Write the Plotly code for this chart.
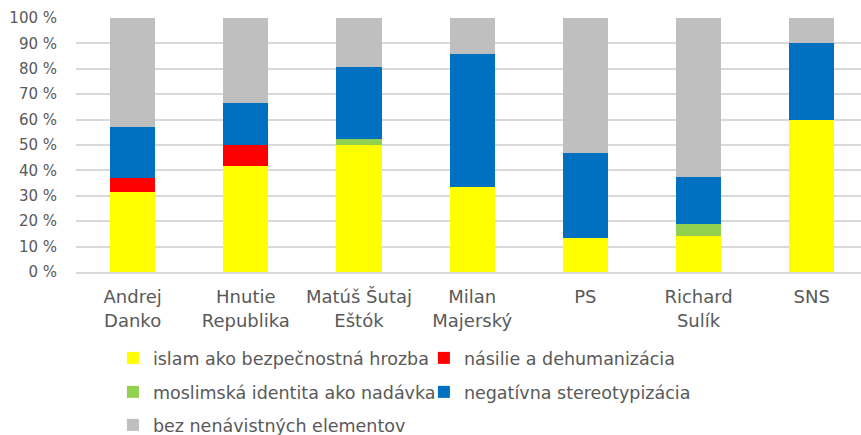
import plotly.graph_objects as go

categories = ["Andrej<br>Danko", "Hnutie<br>Republika", "Matúš Šutaj<br>Eštók", "Milan<br>Majerský",
              "PS", "Richard<br>Sulík", "SNS"]
islam_hrozba = [31.4, 41.7, 50.0, 33.3, 13.3, 14.1, 60.0]
nasilie = [5.7, 8.3, 0, 0, 0, 0, 0]
moslimska_identita = [0, 0, 2.3, 0, 0, 4.7, 0]
stereotypizacia = [20.0, 16.7, 28.4, 52.4, 33.4, 18.8, 30.0]
bez_elementov = [42.9, 33.3, 19.3, 14.3, 53.3, 62.4, 10.0]

series = [
    ("islam ako bezpečnostná hrozba", islam_hrozba, "#FFFF00", "legend"),
    ("násilie a dehumanizácia", nasilie, "#FF0000", "legend"),
    ("moslimská identita ako nadávka", moslimska_identita, "#92D050", "legend2"),
    ("negatívna stereotypizácia", stereotypizacia, "#0070C0", "legend2"),
    ("bez nenávistných elementov", bez_elementov, "#BFBFBF", "legend3"),
]
y_tickvals = [0, 10, 20, 30, 40, 50, 60, 70, 80, 90, 100]
y_ticktext = [f"{v} %" for v in y_tickvals]

FONT = "DejaVu Sans"
TXT = "#595959"

fig = go.Figure()
for name, vals, color, lg in series:
    fig.add_trace(go.Bar(x=categories, y=vals, name=name, marker=dict(color=color, line=dict(width=0)),
                         legend=lg))

legend_common = dict(orientation="h", font=dict(family=FONT, size=17.5, color=TXT),
                     bgcolor="rgba(0,0,0,0)", entrywidth=266, entrywidthmode="pixels",
                     itemwidth=30, xanchor="left", yanchor="middle", tracegroupgap=0, traceorder="normal")

fig.update_layout(
    width=861, height=435,
    margin=dict(l=76, r=0, t=18, b=163, autoexpand=False),
    barmode="stack", bargap=0.6,
    plot_bgcolor="white", paper_bgcolor="white",
    font=dict(family=FONT, size=15, color=TXT),
    xaxis=dict(range=[-0.5, 6.435], showgrid=False, showline=True, linecolor="#D9D9D9", linewidth=1.5,
               ticks="", tickfont=dict(family=FONT, size=18, color=TXT), ticklabelstandoff=8),
    yaxis=dict(range=[0, 100], tickvals=y_tickvals, ticktext=y_ticktext, showgrid=True,
               gridcolor="#D9D9D9", gridwidth=1.5, zeroline=False, showline=False, ticks="",
               tickfont=dict(family=FONT, size=15, color=TXT), ticklabelstandoff=18),
    legend=dict(x=0.047, y=-0.3386, **legend_common),
    legend2=dict(x=0.047, y=-0.4724, **legend_common),
    legend3=dict(x=0.047, y=-0.6024, **legend_common),
)

fig.write_html("out.html", config={"displayModeBar": False},
               post_script="document.body.style.margin='0';")
